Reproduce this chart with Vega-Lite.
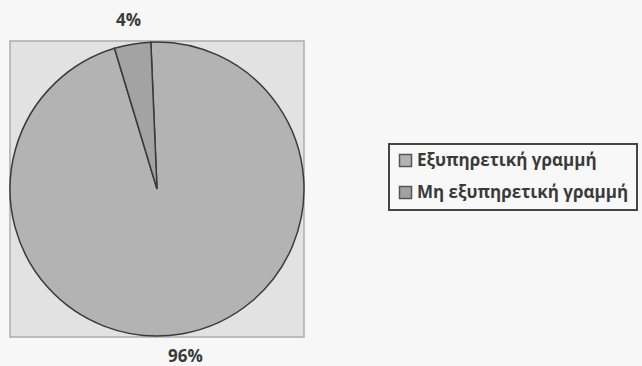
{
  "$schema": "https://vega.github.io/schema/vega-lite/v6.json",
  "width": 294,
  "height": 296,
  "autosize": {"type": "none"},
  "padding": {"left": 10, "top": 41, "right": 338, "bottom": 29},
  "background": "#f7f7f7",
  "view": {"fill": "#e2e2e2", "stroke": "#acacac", "strokeWidth": 1.5},
  "data": {
    "values": [
      {"category": "Εξυπηρετική γραμμή", "share": 0.96},
      {"category": "Μη εξυπηρετική γραμμή", "share": 0.04}
    ]
  },
  "encoding": {
    "theta": {
      "field": "share",
      "type": "quantitative",
      "stack": true,
      "scale": {"range": [-0.042, 6.2412]}
    },
    "order": {"field": "share", "type": "quantitative", "sort": "descending"},
    "color": {
      "field": "category",
      "type": "nominal",
      "scale": {"range": ["#b3b3b3", "#a3a3a3"]},
      "legend": {
        "title": null,
        "orient": "none",
        "legendX": 379,
        "legendY": 103,
        "padding": 8,
        "strokeColor": "#444444",
        "fillColor": "#f8f8f8",
        "symbolType": "square",
        "symbolSize": 144,
        "symbolStrokeColor": "#555555",
        "symbolStrokeWidth": 1.5,
        "labelOffset": 3,
        "labelFont": "Open Sans",
        "labelFontSize": 17,
        "labelFontWeight": "bold",
        "labelColor": "#3a3a3a",
        "labelLimit": 300,
        "rowPadding": 13,
        "encode": {"legend": {"update": {"strokeWidth": {"value": 2}}}}
      }
    }
  },
  "layer": [
    {
      "mark": {"type": "arc", "outerRadius": 147, "stroke": "#3a3a3a", "strokeWidth": 1.5}
    },
    {
      "mark": {
        "type": "text",
        "radius": 170,
        "font": "Open Sans",
        "fontSize": 17,
        "fontWeight": "bold",
        "baseline": "middle"
      },
      "encoding": {
        "text": {"field": "share", "type": "quantitative", "format": ".0%"},
        "color": {"value": "#3a3a3a"}
      }
    }
  ]
}
